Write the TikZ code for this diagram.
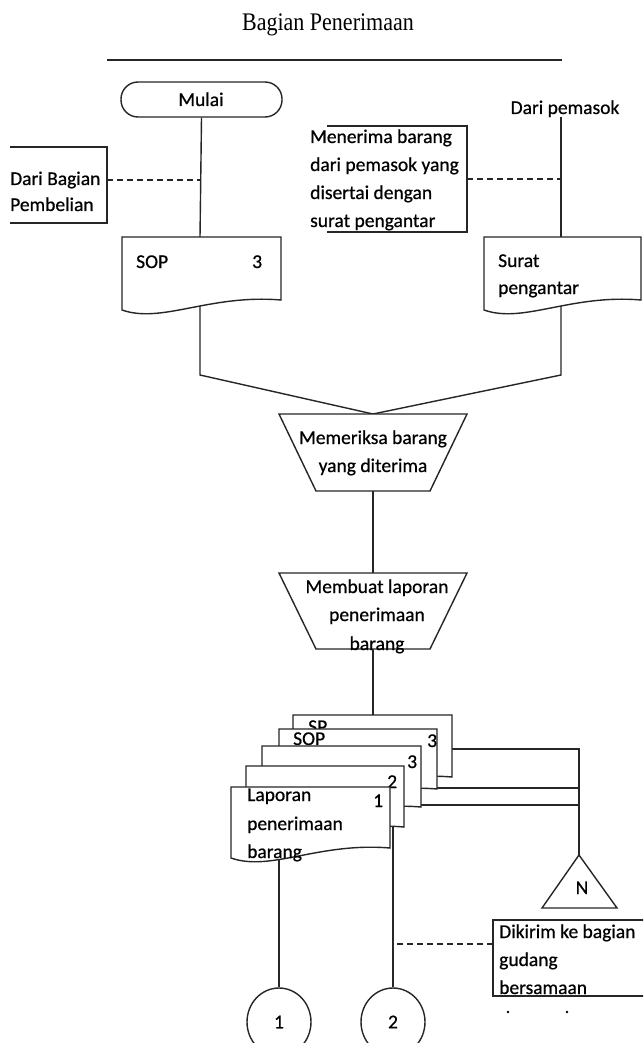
\documentclass[tikz,border=0pt]{standalone}
\usepackage{fontspec}
\setmainfont{Carlito}
\newfontfamily\dfont[FakeBold=0.6]{Carlito}
\newfontfamily\titlefont{Liberation Serif}
\usetikzlibrary{calc,shapes.geometric}
\newcommand\docshape[5]{%
  \node[hold, minimum width=#4pt, minimum height=#5pt] (#1) at (#2,#3) {};
  \draw[ln, fill=white] (#1.north west) -- (#1.north east) -- (#1.south east)
    .. controls ($(#1.south east)+(-0.45*#4,-6)$) and ($(#1.south west)+(0.25*#4,24)$) ..
    ($(#1.south west)+(0,10)$) -- cycle;}
\begin{document}
\begin{tikzpicture}[x=1pt,y=-1pt,
  ln/.style={line width=1.4pt, draw=black!85},
  dsh/.style={line width=1.1pt, draw=black!85, dash pattern=on 6pt off 4pt},
  txt/.style={font=\dfont\fontsize{19.5}{24}\selectfont, inner sep=0pt, anchor=base west},
  ctxt/.style={font=\dfont\fontsize{19.5}{24}\selectfont, inner sep=0pt, anchor=base},
  hold/.style={draw=none, inner sep=0pt, outer sep=0pt, anchor=north west},
  conn/.style={ellipse, draw=black!85, line width=1.4pt, minimum width=64pt, minimum height=68pt, inner sep=0pt, font=\dfont\fontsize{19.5}{24}\selectfont}]
\useasboundingbox (0,0) rectangle (643,1043);
\clip (0,0) rectangle (643,1043);
\fill[white] (0,0) rectangle (643,1043);

% title
\node[font=\titlefont\fontsize{22}{26}\selectfont, inner sep=0pt, anchor=base] (title) at (328,31) {\scalebox{1}[1.15]{Bagian Penerimaan}};
\draw[ln] (107,60) -- (562,60);

% holders for shapes
\node[hold, minimum width=97pt, minimum height=76pt] (dbbox) at (10,147) {};
\node[hold, minimum width=140pt, minimum height=106pt] (mbox) at (327,126) {};
\node[hold, minimum width=160pt, minimum height=76pt] (dkbox) at (493,920) {};
\node[hold, minimum width=188pt, minimum height=77pt] (chk) at (279,414) {};
\node[hold, minimum width=188pt, minimum height=76pt] (mk) at (279,573) {};
\node[ctxt] (pem) at (565,114) {Dari pemasok};
\coordinate (pemb) at (561,117);
\coordinate (tri) at (579,855);
\coordinate (jn) at (579,749);

% start terminal
\node[draw=black!85, line width=1.4pt, fill=white, rounded corners=17pt, minimum width=161pt, minimum height=35pt, inner sep=0pt] (start) at (201.5,99.5) {};
\node[ctxt] (mulai) at (201,106) {Mulai};

% connectors (drawn first, shapes cover their ends)
\draw[ln] (start.south) -- (200,237);
\draw[ln] (pemb) -- (561,237);
\draw[dsh] ([yshift=5pt]dbbox.east) -- ++(93,0);
\draw[dsh] (mbox.east) -- ++(94,0);
\draw[ln] (200,300) -- (200,375) -- (chk.north);
\draw[ln] (561,300) -- (561,375) -- (chk.north);
\draw[ln] (chk.south) -- (mk.north);
\draw[ln] (mk.south) -- (373,716);

% Dari Bagian Pembelian box
\draw[ln] (dbbox.north west) -- (dbbox.north east) -- (dbbox.south east) -- (dbbox.south west);
\node[txt] (db1) at (10,185) {Dari Bagian};
\node[txt] (db2) at (10,211) {Pembelian};

% Menerima box
\draw[ln] (mbox.north west) -- (mbox.north east) -- (mbox.south east) -- (mbox.south west);
\node[txt] (m1) at (310,143) {Menerima barang};
\node[txt] (m2) at (310,171) {dari pemasok yang};
\node[txt] (m3) at (310,199) {disertai dengan};
\node[txt] (m4) at (310,227) {surat pengantar};

% documents SOP and Surat
\docshape{sop}{122}{237}{159}{63}
\node[txt] (sopt) at (136,268) {SOP};
\node[txt] (sopn) at (252,268) {3};
\docshape{srt}{484}{237}{157}{63}
\node[txt] (srt1) at (498,267) {Surat};
\node[txt] (srt2) at (498,294) {pengantar};

% trapezoids
\draw[ln, fill=white] (chk.north west) -- (chk.north east) -- ([xshift=-37pt]chk.south east) -- ([xshift=37pt]chk.south west) -- cycle;
\node[ctxt] (chk1) at (373,444) {Memeriksa barang};
\node[ctxt] (chk2) at (373,472) {yang diterima};
\draw[ln, fill=white] (mk.north west) -- (mk.north east) -- ([xshift=-37pt]mk.south east) -- ([xshift=37pt]mk.south west) -- cycle;
\node[ctxt] (mk1) at (377,593) {Membuat laporan};
\node[ctxt] (mk2) at (377,621) {penerimaan};
\node[ctxt] (mk3) at (377,650) {barang};

% stack connectors
\draw[ln] (452,749) -- (jn) -- (tri);
\draw[ln] (437,788) -- (jn |- 0,788);
\draw[ln] (421,805) -- (jn |- 0,805);
\node[conn] (c1) at (279,1022) {1};
\node[conn] (c2) at (393,1022) {2};
\draw[ln] (279,855) -- (c1.north);
\draw[ln] (393,825) -- (c2.north);

% document stack
\docshape{dA}{293}{715}{159}{62}
\node[txt] (spt) at (308,733) {SP};
\docshape{dB}{279}{729}{158}{60}
\node[txt] (sopt2) at (293,745) {SOP};
\node[txt] (n3a) at (427,747) {3};
\docshape{dC}{262}{746}{159}{61}
\node[txt] (n3b) at (407,768) {3};
\docshape{dD}{246}{766}{158}{61}
\node[txt] (n2) at (387,788) {2};
\docshape{dE}{231}{787}{159}{61}
\node[txt] (n1) at (373,807) {1};
\node[txt] (l1) at (247,801) {Laporan};
\node[txt] (l2) at (247,830) {penerimaan};
\node[txt] (l3) at (247,858) {barang};

% off-page connector triangle
\draw[ln, fill=white] (tri) -- (617,908) -- (542,908) -- cycle;
\node[ctxt] (nn) at (582,894) {N};

% Dikirim box
\draw[dsh] ([yshift=14pt]dkbox.west) -- ++(-96,0);
\draw[ln] (dkbox.north east) -- (dkbox.north west) -- (dkbox.south west) -- (dkbox.south east);
\node[txt] (dk1) at (499,938) {Dikirim ke bagian};
\node[txt] (dk2) at (499,966) {gudang};
\node[txt] (dk3) at (499,994) {bersamaan};
\fill (508,1012) circle (1.3);
\fill (567,1012) circle (1.3);
\end{tikzpicture}
\end{document}
